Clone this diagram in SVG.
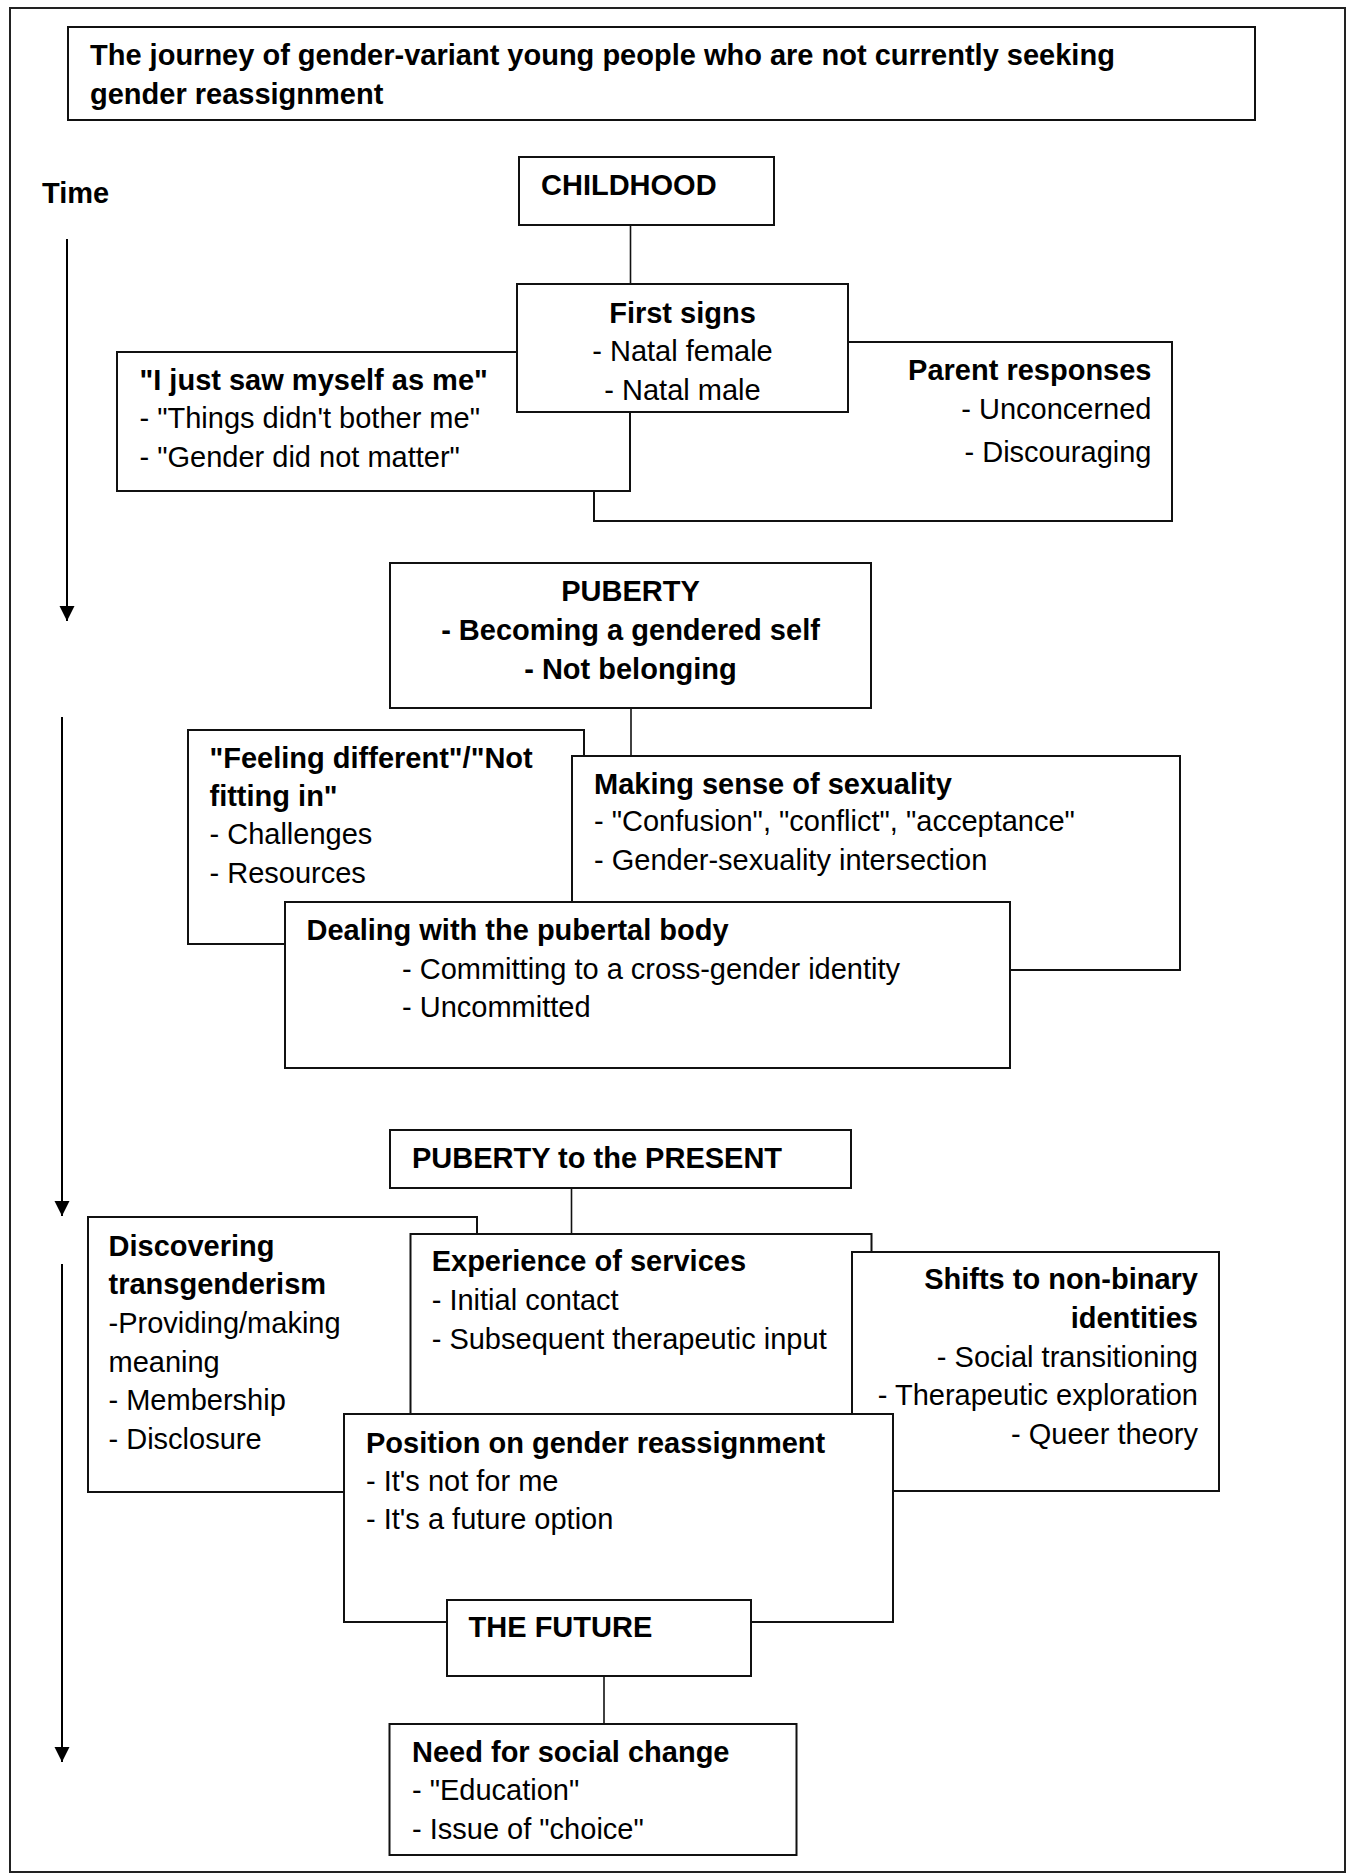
<svg xmlns="http://www.w3.org/2000/svg" width="1349" height="1874" viewBox="0 0 1349 1874">
<style>
text{font-family:"Liberation Sans",Arial,sans-serif;font-size:29px;fill:#000}
.b{font-weight:bold}
.box{fill:#fff;stroke:#111;stroke-width:2}
.con{stroke:#111;stroke-width:1.6;fill:none}
.ax{stroke:#000;stroke-width:2;fill:none}
.r{text-anchor:end}
.c{text-anchor:middle}
</style>
<defs>
<marker id="ah" markerUnits="userSpaceOnUse" markerWidth="16" markerHeight="16" refX="15" refY="8" orient="auto">
<path d="M0,0.5 L15,8 L0,15.5 Z" fill="#000"/>
</marker>
</defs>
<rect x="10" y="8" width="1335" height="1864" fill="#fff" stroke="#222" stroke-width="2"/>

<g id="title">
<rect class="box" x="68" y="27" width="1187" height="93"/>
<text class="b" x="90" y="65">The journey of gender-variant young people who are not currently seeking</text>
<text class="b" x="90" y="103.5">gender reassignment</text>
</g>

<g id="timeline">
<text class="b" x="42" y="203">Time</text>
<line class="ax" x1="67" y1="239" x2="67" y2="621" marker-end="url(#ah)"/>
<line class="ax" x1="62" y1="717" x2="62" y2="1216" marker-end="url(#ah)"/>
<line class="ax" x1="62" y1="1264" x2="62" y2="1762" marker-end="url(#ah)"/>
</g>

<g id="connectors">
<line class="con" x1="630.5" y1="225" x2="630.5" y2="284"/>
<line class="con" x1="631" y1="708" x2="631" y2="756"/>
<line class="con" x1="571.5" y1="1188" x2="571.5" y2="1234"/>
<line class="con" x1="604" y1="1676" x2="604" y2="1724"/>
</g>

<g id="childhood">
<rect class="box" x="519" y="157" width="255" height="68"/>
<text class="b" x="541" y="195">CHILDHOOD</text>
</g>

<g id="parent-responses">
<rect class="box" x="594" y="342" width="578" height="179"/>
<text class="b r" x="1151.5" y="380">Parent responses</text>
<text class="r" x="1151.5" y="419">- Unconcerned</text>
<text class="r" x="1151.5" y="462">- Discouraging</text>
</g>

<g id="saw-myself">
<rect class="box" x="117" y="352" width="513" height="139"/>
<text class="b" x="139.5" y="389.5">"I just saw myself as me"</text>
<text x="139.5" y="428">- "Things didn't bother me"</text>
<text x="139.5" y="466.5">- "Gender did not matter"</text>
</g>

<g id="first-signs">
<rect class="box" x="517" y="284" width="331" height="128"/>
<text class="b c" x="682.5" y="322.5">First signs</text>
<text class="c" x="682.5" y="361">- Natal female</text>
<text class="c" x="682.5" y="399.5">- Natal male</text>
</g>

<g id="puberty">
<rect class="box" x="390" y="563" width="481" height="145"/>
<text class="b c" x="630.5" y="600.7">PUBERTY</text>
<text class="b c" x="630.5" y="639.5">- Becoming a gendered self</text>
<text class="b c" x="630.5" y="678.5">- Not belonging</text>
</g>

<g id="feeling-different">
<rect class="box" x="188" y="730" width="396" height="214"/>
<text class="b" x="209.5" y="768">"Feeling different"/"Not</text>
<text class="b" x="209.5" y="806">fitting in"</text>
<text x="209.5" y="844">- Challenges</text>
<text x="209.5" y="883">- Resources</text>
</g>

<g id="sexuality">
<rect class="box" x="572" y="756" width="608" height="214"/>
<text class="b" x="594" y="793.6">Making sense of sexuality</text>
<text x="594" y="831">- "Confusion", "conflict", "acceptance"</text>
<text x="594" y="870">- Gender-sexuality intersection</text>
</g>

<g id="pubertal-body">
<rect class="box" x="285" y="902" width="725" height="166"/>
<text class="b" x="306.5" y="939.5">Dealing with the pubertal body</text>
<text x="402" y="978.6">- Committing to a cross-gender identity</text>
<text x="402" y="1016.8">- Uncommitted</text>
</g>

<g id="puberty-present">
<rect class="box" x="390" y="1130" width="461" height="58"/>
<text class="b" x="412" y="1168">PUBERTY to the PRESENT</text>
</g>

<g id="transgenderism">
<rect class="box" x="88" y="1217" width="389" height="275"/>
<text class="b" x="108.5" y="1255.5">Discovering</text>
<text class="b" x="108.5" y="1294">transgenderism</text>
<text x="108.5" y="1333">-Providing/making</text>
<text x="108.5" y="1371.5">meaning</text>
<text x="108.5" y="1410">- Membership</text>
<text x="108.5" y="1449">- Disclosure</text>
</g>

<g id="services">
<rect class="box" x="410.5" y="1234" width="461" height="250"/>
<text class="b" x="431.7" y="1270.7">Experience of services</text>
<text x="431.7" y="1310">- Initial contact</text>
<text x="431.7" y="1349.3">- Subsequent therapeutic input</text>
</g>

<g id="non-binary">
<rect class="box" x="852" y="1252" width="367" height="239"/>
<text class="b r" x="1198" y="1289">Shifts to non-binary</text>
<text class="b r" x="1198" y="1327.5">identities</text>
<text class="r" x="1198" y="1366.5">- Social transitioning</text>
<text class="r" x="1198" y="1404.5">- Therapeutic exploration</text>
<text class="r" x="1198" y="1444">- Queer theory</text>
</g>

<g id="position">
<rect class="box" x="344" y="1414" width="549" height="208"/>
<text class="b" x="366" y="1452.5">Position on gender reassignment</text>
<text x="366" y="1491">- It's not for me</text>
<text x="366" y="1528.5">- It's a future option</text>
</g>

<g id="future">
<rect class="box" x="447" y="1600" width="304" height="76"/>
<text class="b" x="468.6" y="1637">THE FUTURE</text>
</g>

<g id="social-change">
<rect class="box" x="389.5" y="1724" width="407" height="131"/>
<text class="b" x="412" y="1762">Need for social change</text>
<text x="412" y="1800">- "Education"</text>
<text x="412" y="1839">- Issue of "choice"</text>
</g>
</svg>
